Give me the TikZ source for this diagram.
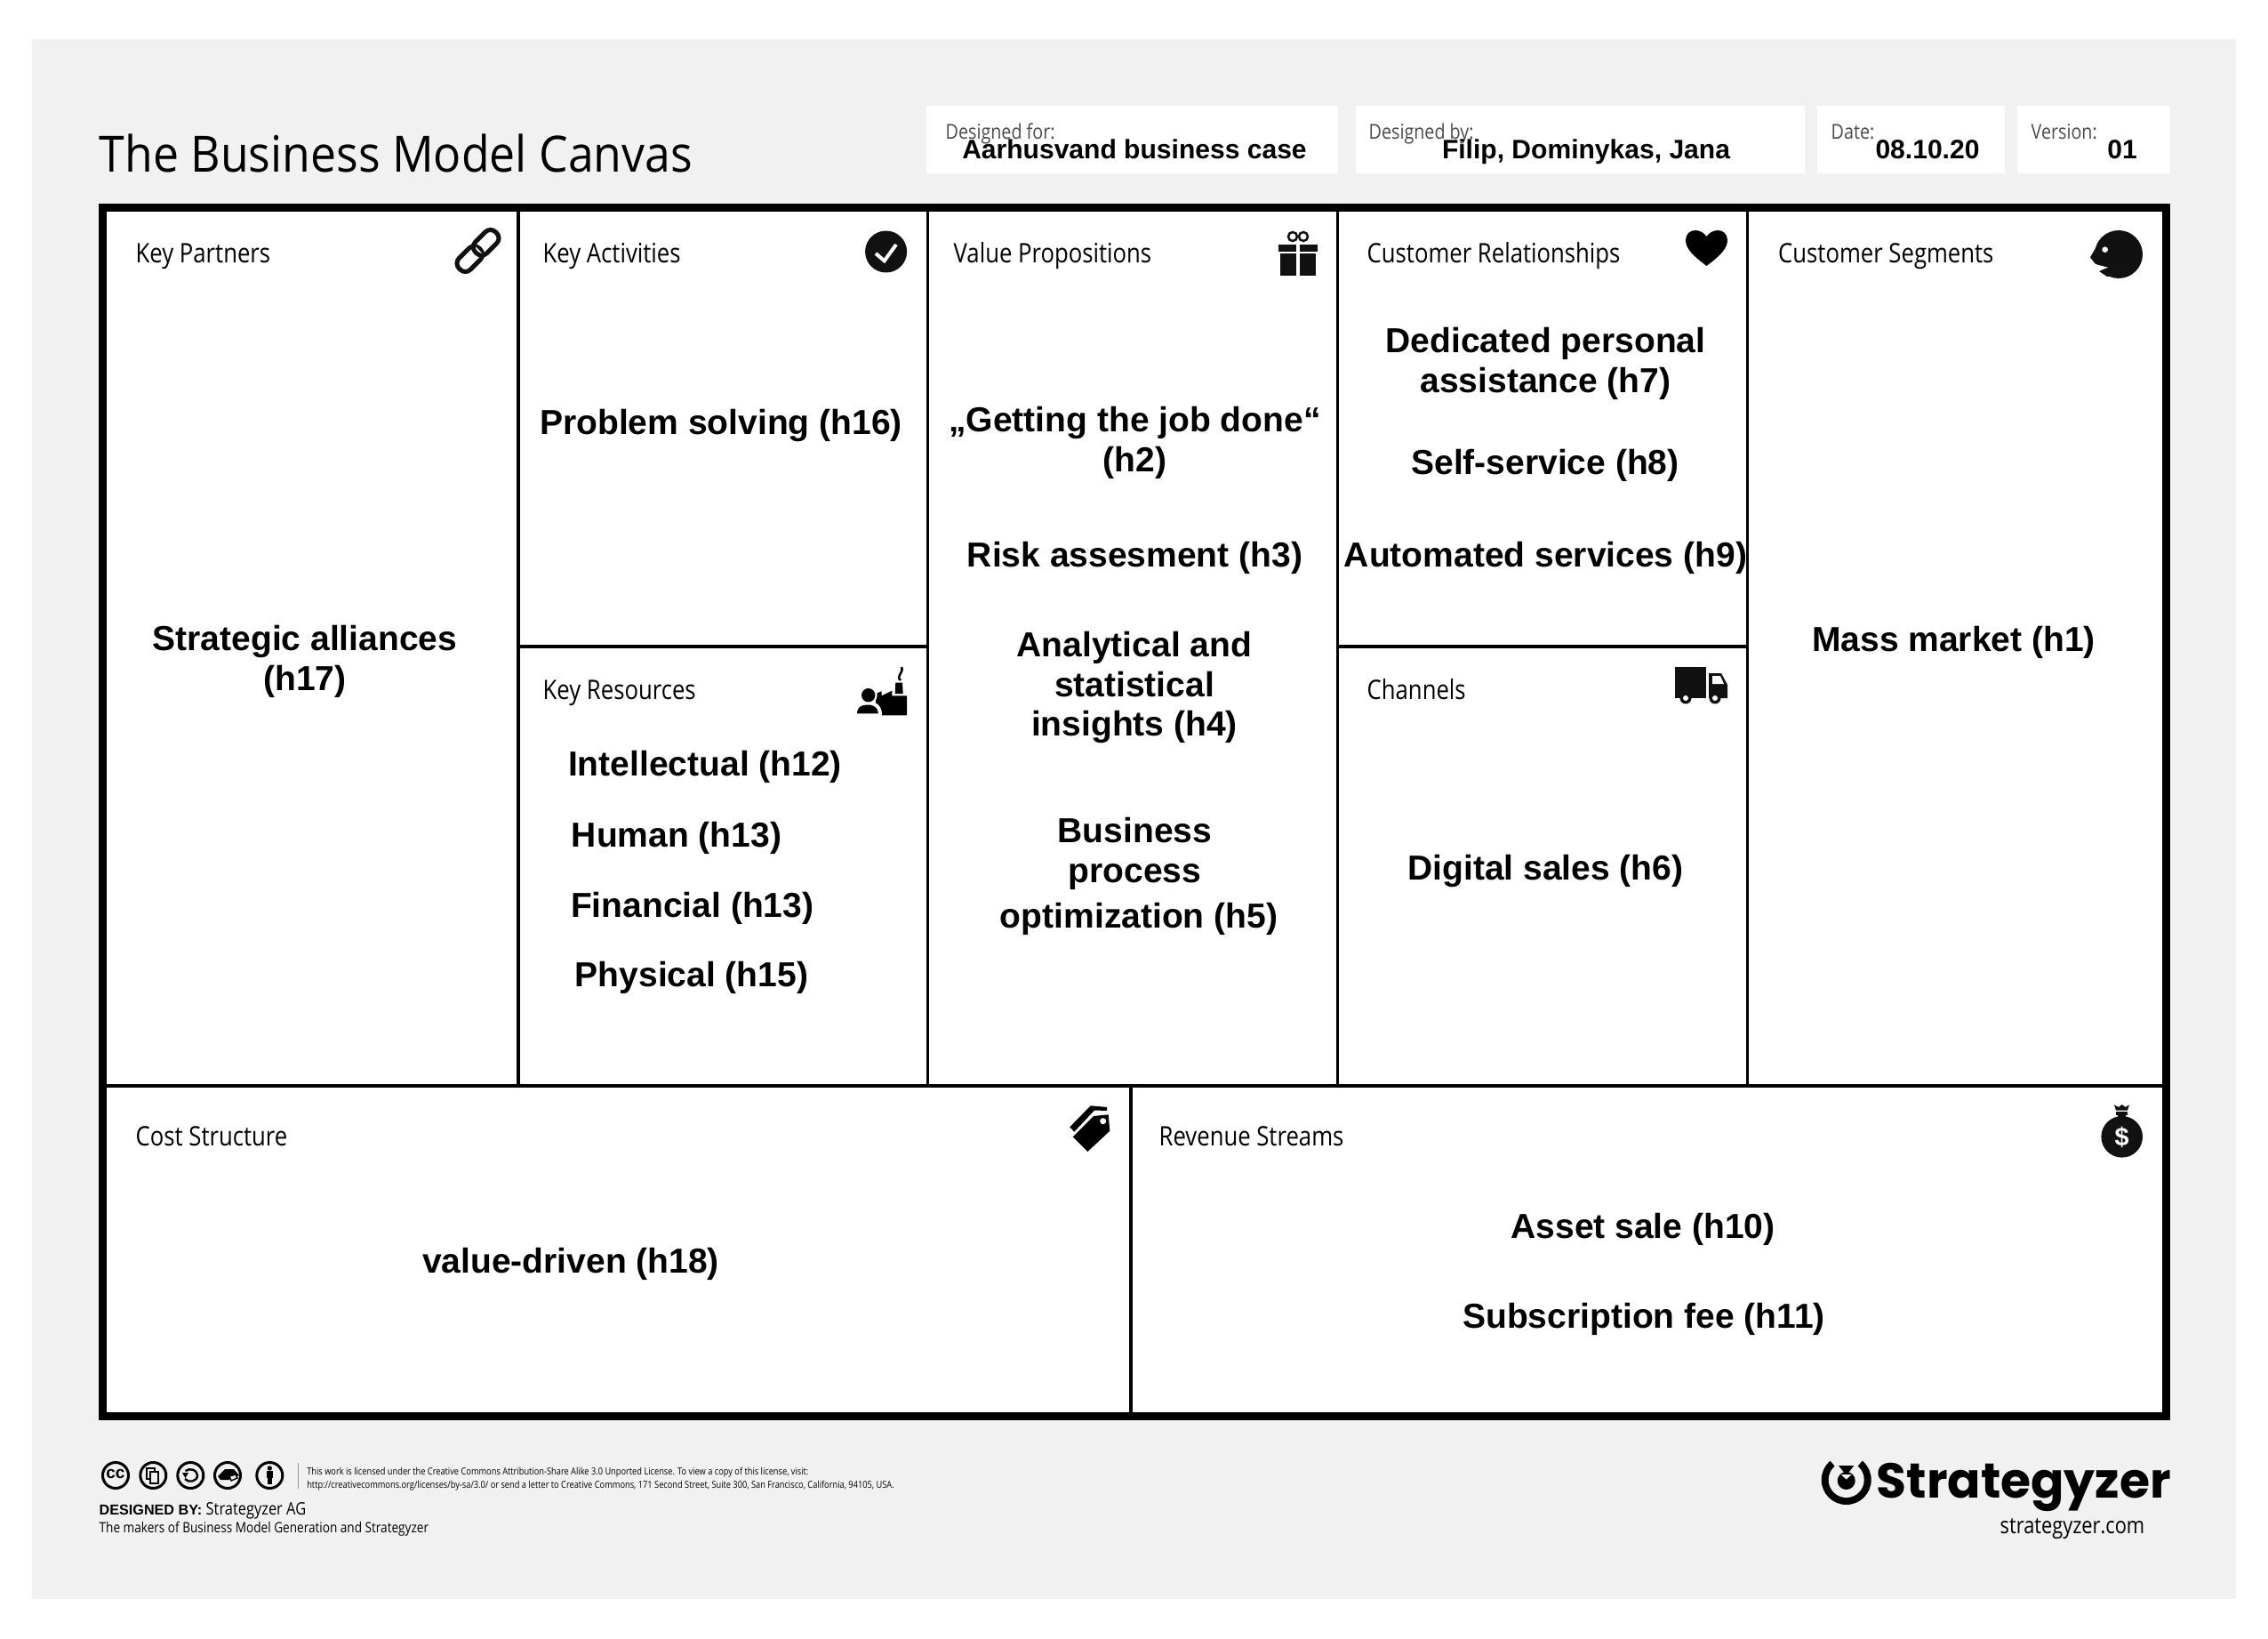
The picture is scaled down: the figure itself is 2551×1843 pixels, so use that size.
\documentclass[tikz,border=0pt]{standalone}
\usepackage{fontspec}
\setmainfont{Open Sans}[FakeStretch=0.85]
\newfontfamily\titlefont{Open Sans}[FakeStretch=0.92]
\newfontfamily\arialfont{Liberation Sans}
\newfontfamily\logofont{Poppins}
\definecolor{canvasgray}{HTML}{F1F1F1}
\definecolor{iconblack}{HTML}{111111}
\tikzset{
  boxlabel/.style={anchor=base west,inner sep=0,font=\fontsize{8.6}{10}\selectfont},
  itemtext/.style={inner sep=0,align=center,xshift=0.1mm,yshift=-0.3mm,font=\arialfont\bfseries\fontsize{11.1}{12.8}\selectfont},
  fieldlabel/.style={anchor=base west,inner sep=0,text=black!70,font=\fontsize{6.6}{8}\selectfont},
  fieldtext/.style={anchor=base,inner sep=0,font=\arialfont\bfseries\fontsize{8.55}{10}\selectfont},
  finetext/.style={anchor=base west,inner sep=0,font=\fontsize{3.1}{4}\selectfont},
  gridline/.style={line width=0.38mm},
  ccring/.style={line width=0.3mm,draw=black}
}
\begin{document}
\begin{tikzpicture}[x=0.1mm,y=-0.1mm]
  \useasboundingbox (0,0) rectangle (2551,1843);

  % Drawing sheet and header fields
  \fill [canvasgray] (36,44) rectangle (2515,1798);
  \fill [white] (1041.5,119) rectangle (1505,195);
  \fill [white] (1525,119) rectangle (2030,195);
  \fill [white] (2043.5,119) rectangle (2255,195);
  \fill [white] (2269,119) rectangle (2441,195);

  % Marking title and header texts
  \node [anchor=base west,inner sep=0,font=\titlefont\fontsize{16}{18}\selectfont] (title) at (111,194) {The Business Model Canvas};
  \node [fieldlabel] (forlabel) at (1063,157) {Designed for:};
  \node [fieldlabel] (bylabel) at (1539,157) {Designed by:};
  \node [fieldlabel] (datelabel) at (2059,157) {Date:};
  \node [fieldlabel] (versionlabel) at (2284,157) {Version:};
  \node [fieldtext] (forvalue) at (1276,178.5) {Aarhusvand business case};
  \node [fieldtext] (byvalue) at (1784,178.5) {Filip, Dominykas, Jana};
  \node [fieldtext] (datevalue) at (2168,178.5) {08.10.20};
  \node [fieldtext] (versionvalue) at (2387,178.5) {01};

  % Drawing canvas frame and grid
  \fill [white] (115,233.5) rectangle (2436,1592);
  \draw [gridline] (583,233.5) -- (583,1221);
  \draw [gridline] (1043.5,233.5) -- (1043.5,1221);
  \draw [gridline] (1504.5,233.5) -- (1504.5,1221);
  \draw [gridline] (1965.5,233.5) -- (1965.5,1221);
  \draw [gridline] (583,727) -- (1043.5,727);
  \draw [gridline] (1504.5,727) -- (1965.5,727);
  \draw [gridline] (115,1221) -- (2436,1221);
  \draw [gridline] (1272,1221) -- (1272,1592);
  \draw [line width=0.9mm] (115,233.5) rectangle (2436,1592);

  % Marking box labels
  \node [boxlabel] (keypartners) at (152,296) {Key Partners};
  \node [boxlabel] (keyactivities) at (610,296) {Key Activities};
  \node [boxlabel] (valueprops) at (1072,296) {Value Propositions};
  \node [boxlabel] (relationships) at (1537,296) {Customer Relationships};
  \node [boxlabel] (segments) at (1999.5,296) {Customer Segments};
  \node [boxlabel] (keyresources) at (610,786) {Key Resources};
  \node [boxlabel] (channels) at (1537,786) {Channels};
  \node [boxlabel] (coststructure) at (152,1288) {Cost Structure};
  \node [boxlabel] (revenue) at (1303,1288) {Revenue Streams};

  % Marking box contents
  \node [itemtext] (alliances) at (342,741) {Strategic alliances\\(h17)};
  \node [itemtext] (problem) at (810,475) {Problem solving (h16)};
  \node [itemtext] (jobdone) at (1275.5,494.6) {„Getting the job done“\\(h2)};
  \node [itemtext] (risk) at (1275.5,624.7) {Risk assesment (h3)};
  \node [itemtext] (insights) at (1275,770) {Analytical and\\statistical\\insights (h4)};
  \node [itemtext] (business) at (1275.5,957) {Business\\process};
  \node [itemtext] (optimization) at (1280,1030) {optimization (h5)};
  \node [itemtext] (dedicated) at (1737.5,406) {Dedicated personal\\assistance (h7)};
  \node [itemtext] (selfservice) at (1737,520.6) {Self-service (h8)};
  \node [itemtext] (automated) at (1737.5,624.7) {Automated services (h9)};
  \node [itemtext] (digital) at (1737.5,976) {Digital sales (h6)};
  \node [itemtext] (mass) at (2196.5,719) {Mass market (h1)};
  \node [itemtext] (intellectual) at (792,859) {Intellectual (h12)};
  \node [itemtext] (human) at (760,939) {Human (h13)};
  \node [itemtext] (financial) at (777.7,1018) {Financial (h13)};
  \node [itemtext] (physical) at (777,1096.5) {Physical (h15)};
  \node [itemtext] (valuedriven) at (641,1418.7) {value-driven (h18)};
  \node [itemtext] (asset) at (1847,1379.6) {Asset sale (h10)};
  \node [itemtext] (subscription) at (1848,1480.5) {Subscription fee (h11)};

  % Drawing link icon
  \begin{scope}[shift={(537.5,282)},rotate=45]
    \draw [line width=0.5mm,rounded corners=0.8mm,iconblack] (-29,-9) rectangle (3,9);
    \draw [line width=0.9mm,white] (-3,-6) -- (-3,6);
    \draw [line width=0.5mm,rounded corners=0.8mm,iconblack] (-3,-9) rectangle (29,9);
    \draw [line width=0.8mm,white] (6,-1) -- (11,-1);
  \end{scope}

  % Drawing check icon
  \fill [iconblack] (996.6,283) circle (23.5);
  \draw [line width=0.4mm,white] (985,285) -- (994.7,293.3) -- (1008,275);

  % Drawing gift icon
  \draw [line width=0.25mm,iconblack] (1454,266) circle (5);
  \draw [line width=0.25mm,iconblack] (1466,266) circle (5);
  \fill [iconblack] (1438,275) rectangle (1458,283);
  \fill [iconblack] (1462,275) rectangle (1482,283);
  \fill [iconblack] (1440,285) rectangle (1458,310);
  \fill [iconblack] (1462,285) rectangle (1480,310);

  % Drawing heart icon
  \fill [black] (1919.5,299) .. controls (1905,288) and (1896,280) .. (1896,270)
    .. controls (1896,263) and (1901,259) .. (1907,259)
    .. controls (1912,259) and (1917,262) .. (1919.5,266)
    .. controls (1922,262) and (1927,259) .. (1932,259)
    .. controls (1938,259) and (1943,263) .. (1943,270)
    .. controls (1943,280) and (1934,288) .. (1919.5,299) -- cycle;

  % Drawing face icon
  \fill [iconblack] (2383,286) circle (27);
  \fill [iconblack] (2364,267) -- (2351,289.3) -- (2356.7,296.7) -- (2375,298) -- cycle;
  \fill [iconblack] (2372,300) -- (2361,305) -- (2370,311) -- (2385,311) -- cycle;
  \fill [white] (2358,297.5) -- (2371,300.7) -- (2361.5,304.5) -- cycle;
  \fill [white] (2367.7,280.7) circle (3.3);

  % Drawing factory icon
  \fill [black] (985,780) -- (991.7,777.3) -- (991.7,782.3) -- (1003.3,776.7) -- (1003.3,782.3)
    -- (1020,782.3) -- (1020,804.3) -- (985,804.3) -- cycle;
  \fill [black] (1006.7,780) -- (1007.3,767.7) -- (1015,767.7) -- (1015.7,780) -- cycle;
  \draw [line width=0.25mm,black] (1013,765) .. controls (1007,760) and (1017,757) .. (1014,750);
  \fill [white] (976.7,781.7) circle (10);
  \draw [line width=0.4mm,white,fill=black] (961.7,804.3) .. controls (961.7,793) and (968,790.5) .. (976.7,790.5)
    .. controls (985,790.5) and (990,795) .. (990,804.3) -- cycle;
  \fill [black] (976.7,781.7) circle (7.7);

  % Drawing truck icon
  \fill [iconblack] (1884,750) rectangle (1919,785);
  \fill [iconblack] (1922,757) -- (1936,757) -- (1943,770) -- (1943,785) -- (1922,785) -- cycle;
  \fill [white] (1926,760) -- (1935,760) -- (1939,769) -- (1926,769) -- cycle;
  \fill [iconblack] (1896,785) circle (6.5);
  \fill [white] (1896,785) circle (3);
  \fill [iconblack] (1929,785) circle (6.5);
  \fill [white] (1929,785) circle (3);

  % Drawing tag icon
  \fill [black] (1206.7,1278.3) -- (1230,1255) -- (1246.7,1253.3) -- (1248.3,1271.7) -- (1223.3,1295) -- cycle;
  \fill [white] (1240.7,1260.7) circle (3.5);
  \fill [black] (1203.3,1267.3) -- (1226.7,1243.3) -- (1245,1245) -- (1245,1249) -- (1231,1248.5) -- (1208.3,1272.7) -- cycle;

  % Drawing money bag icon
  \fill [iconblack] (2386.7,1278.3) circle (23.3);
  \fill [iconblack] (2378,1242.3) -- (2383,1245) -- (2386.7,1242) -- (2390.5,1245) -- (2395,1242.3) -- (2393,1248.5) -- (2380,1248.5) -- cycle;
  \fill [iconblack] (2380,1250) rectangle (2393,1254);
  \fill [iconblack] (2382,1254) rectangle (2391,1258);
  \node [inner sep=0,text=white,font=\arialfont\bfseries\fontsize{8.2}{10}\selectfont] (dollar) at (2386.7,1278.5) {\$};

  % Drawing licence icons
  \draw [ccring] (130,1659) circle (14.5);
  \draw [ccring] (172.3,1659) circle (14.5);
  \draw [ccring] (214.3,1659) circle (14.5);
  \draw [ccring] (256,1659) circle (14.5);
  \draw [ccring] (303.3,1659) circle (14.5);
  \node [inner sep=0,font=\arialfont\bfseries\fontsize{5.4}{6}\selectfont] (ccmark) at (130,1657.5) {cc};
  \draw [line width=0.17mm] (165.3,1651) rectangle (174,1663.3);
  \draw [line width=0.17mm,fill=canvasgray] (169.3,1655) rectangle (178.3,1667.7);
  \draw [line width=0.24mm] (208.5,1654) .. controls (214,1650) and (222,1653) .. (222,1659) .. controls (222,1666) and (212,1668) .. (208,1663);
  \fill [black] (205,1656) -- (212,1656) -- (208.5,1662) -- cycle;
  \fill [black] (245,1660) -- (253,1652) -- (263,1652) -- (269,1659) -- (257,1664) -- (248,1664) -- cycle;
  \draw [line width=0.14mm,fill=canvasgray] (258,1660) -- (265,1658) -- (267,1662) -- (260,1665) -- cycle;
  \fill [black] (303.3,1651) circle (2.7);
  \fill [black] (300,1654) rectangle (306.7,1662);
  \fill [black] (301,1662) rectangle (305.6,1669.3);
  \draw [line width=0.1mm,black!40] (335,1645) -- (335,1674);

  % Marking licence and maker texts
  \node [finetext] (licenceone) at (344.6,1658) {This work is licensed under the Creative Commons Attribution-Share Alike 3.0 Unported License. To view a copy of this license, visit:};
  \node [finetext] (licencetwo) at (344.6,1673) {http://creativecommons.org/licenses/by-sa/3.0/ or send a letter to Creative Commons, 171 Second Street, Suite 300, San Francisco, California, 94105, USA.};
  \node [anchor=base west,inner sep=0,font=\arialfont\bfseries\fontsize{4.6}{6}\selectfont] (designedby) at (111,1703) {DESIGNED BY:};
  \node [anchor=base west,inner sep=0,font=\fontsize{5.5}{6}\selectfont] (strategyzerag) at (231,1703) {Strategyzer AG};
  \node [anchor=base west,inner sep=0,font=\fontsize{4.55}{6}\selectfont] (makers) at (111,1723.5) {The makers of Business Model Generation and Strategyzer};

  % Drawing logo
  \fill [black] (2076.7,1664) circle (28);
  \fill [canvasgray] (2076.7,1664) circle (20);
  \fill [canvasgray] (2076.7,1664) -- (2043,1624) -- (2110,1624) -- cycle;
  \fill [black] (2076.7,1665) circle (10);
  \fill [black] (2068,1648) -- (2085.4,1648) -- (2076.7,1659) -- cycle;
  \fill [canvasgray] (2070.7,1658) -- (2082.7,1658) -- (2076.7,1663.5) -- cycle;
  \node [anchor=base west,inner sep=0,font=\logofont\bfseries\fontsize{15.7}{18}\selectfont] (logoname) at (2110,1684) {Strategyzer};
  \node [anchor=base west,inner sep=0,font=\fontsize{7.3}{9}\selectfont] (logourl) at (2249,1724) {strategyzer.com};
\end{tikzpicture}
\end{document}
